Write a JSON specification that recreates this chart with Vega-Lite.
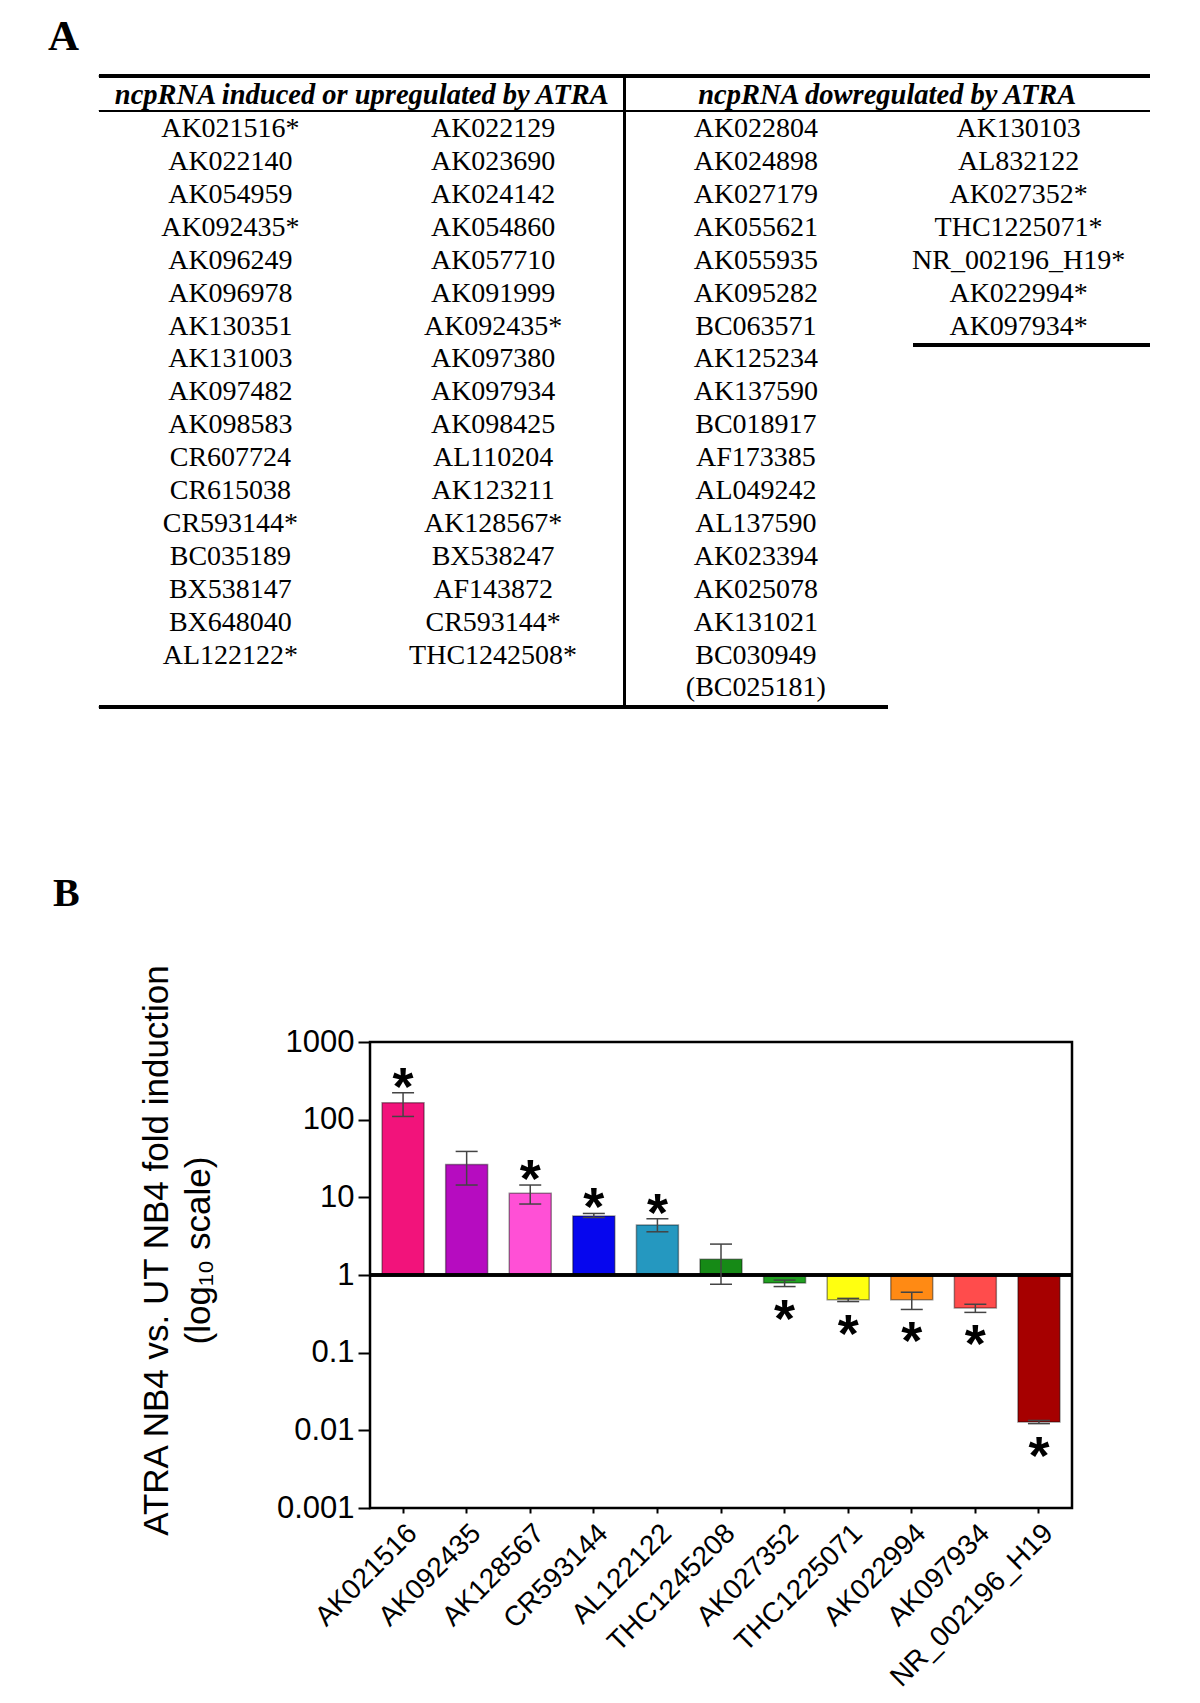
{
  "$schema": "https://vega.github.io/schema/vega-lite/v6.json",
  "background": "white",
  "padding": {"left": 48, "top": 15, "right": 0, "bottom": 0},
  "spacing": 164,
  "config": {"axis": {"grid": false}, "font": "Liberation Sans"},
  "vconcat": [
    {
      "width": 780,
      "height": 631,
      "view": {"stroke": null},
      "title": {"text": "A", "anchor": "start", "frame": "group", "dx": -322, "offset": -18, "baseline": "alphabetic", "font": "Liberation Serif", "fontSize": 43, "fontWeight": "bold", "color": "black"},
      "data": {"values": [
        {"col": 1, "row": 1, "name": "AK021516*"},
        {"col": 1, "row": 2, "name": "AK022140"},
        {"col": 1, "row": 3, "name": "AK054959"},
        {"col": 1, "row": 4, "name": "AK092435*"},
        {"col": 1, "row": 5, "name": "AK096249"},
        {"col": 1, "row": 6, "name": "AK096978"},
        {"col": 1, "row": 7, "name": "AK130351"},
        {"col": 1, "row": 8, "name": "AK131003"},
        {"col": 1, "row": 9, "name": "AK097482"},
        {"col": 1, "row": 10, "name": "AK098583"},
        {"col": 1, "row": 11, "name": "CR607724"},
        {"col": 1, "row": 12, "name": "CR615038"},
        {"col": 1, "row": 13, "name": "CR593144*"},
        {"col": 1, "row": 14, "name": "BC035189"},
        {"col": 1, "row": 15, "name": "BX538147"},
        {"col": 1, "row": 16, "name": "BX648040"},
        {"col": 1, "row": 17, "name": "AL122122*"},
        {"col": 2, "row": 1, "name": "AK022129"},
        {"col": 2, "row": 2, "name": "AK023690"},
        {"col": 2, "row": 3, "name": "AK024142"},
        {"col": 2, "row": 4, "name": "AK054860"},
        {"col": 2, "row": 5, "name": "AK057710"},
        {"col": 2, "row": 6, "name": "AK091999"},
        {"col": 2, "row": 7, "name": "AK092435*"},
        {"col": 2, "row": 8, "name": "AK097380"},
        {"col": 2, "row": 9, "name": "AK097934"},
        {"col": 2, "row": 10, "name": "AK098425"},
        {"col": 2, "row": 11, "name": "AL110204"},
        {"col": 2, "row": 12, "name": "AK123211"},
        {"col": 2, "row": 13, "name": "AK128567*"},
        {"col": 2, "row": 14, "name": "BX538247"},
        {"col": 2, "row": 15, "name": "AF143872"},
        {"col": 2, "row": 16, "name": "CR593144*"},
        {"col": 2, "row": 17, "name": "THC1242508*"},
        {"col": 3, "row": 1, "name": "AK022804"},
        {"col": 3, "row": 2, "name": "AK024898"},
        {"col": 3, "row": 3, "name": "AK027179"},
        {"col": 3, "row": 4, "name": "AK055621"},
        {"col": 3, "row": 5, "name": "AK055935"},
        {"col": 3, "row": 6, "name": "AK095282"},
        {"col": 3, "row": 7, "name": "BC063571"},
        {"col": 3, "row": 8, "name": "AK125234"},
        {"col": 3, "row": 9, "name": "AK137590"},
        {"col": 3, "row": 10, "name": "BC018917"},
        {"col": 3, "row": 11, "name": "AF173385"},
        {"col": 3, "row": 12, "name": "AL049242"},
        {"col": 3, "row": 13, "name": "AL137590"},
        {"col": 3, "row": 14, "name": "AK023394"},
        {"col": 3, "row": 15, "name": "AK025078"},
        {"col": 3, "row": 16, "name": "AK131021"},
        {"col": 3, "row": 17, "name": "BC030949"},
        {"col": 3, "row": 18, "name": "(BC025181)"},
        {"col": 4, "row": 1, "name": "AK130103"},
        {"col": 4, "row": 2, "name": "AL832122"},
        {"col": 4, "row": 3, "name": "AK027352*"},
        {"col": 4, "row": 4, "name": "THC1225071*"},
        {"col": 4, "row": 5, "name": "NR_002196_H19*"},
        {"col": 4, "row": 6, "name": "AK022994*"},
        {"col": 4, "row": 7, "name": "AK097934*"}
      ]},
      "layer": [
        {
          "mark": {"type": "text", "font": "Liberation Serif", "fontSize": 28, "baseline": "middle", "align": "center", "color": "black"},
          "encoding": {
            "x": {"field": "col", "type": "quantitative", "scale": {"domain": [1.5314, 4.5], "nice": false, "zero": false}, "axis": null},
            "y": {"field": "row", "type": "quantitative", "scale": {"domain": [-0.614, 18.565], "nice": false, "zero": false, "reverse": true}, "axis": null},
            "text": {"field": "name"}
          }
        },
        {
          "data": {"values": [
            {"col": 1.5, "head": "ncpRNA induced or upregulated by ATRA"},
            {"col": 3.5, "head": "ncpRNA dowregulated by ATRA"}
          ]},
          "mark": {"type": "text", "font": "Liberation Serif", "fontSize": 28.5, "fontWeight": "bold", "fontStyle": "italic", "baseline": "middle", "align": "center", "color": "black"},
          "encoding": {
            "x": {"field": "col", "type": "quantitative"},
            "y": {"datum": -0.05, "type": "quantitative"},
            "text": {"field": "head"}
          }
        },
        {
          "mark": {"type": "rule", "strokeWidth": 3, "color": "black"},
          "encoding": {"x": {"datum": 0.5, "type": "quantitative"}, "x2": {"datum": 4.5}, "y": {"datum": -0.614, "type": "quantitative"}}
        },
        {
          "mark": {"type": "rule", "strokeWidth": 1.5, "color": "black"},
          "encoding": {"x": {"datum": 0.5, "type": "quantitative"}, "x2": {"datum": 4.5}, "y": {"datum": 0.44, "type": "quantitative"}}
        },
        {
          "mark": {"type": "rule", "strokeWidth": 3, "color": "black"},
          "encoding": {"x": {"datum": 0.5, "type": "quantitative"}, "x2": {"datum": 3.5}, "y": {"datum": 18.565, "type": "quantitative"}}
        },
        {
          "mark": {"type": "rule", "strokeWidth": 3, "color": "black"},
          "encoding": {"x": {"datum": 3.6, "type": "quantitative"}, "x2": {"datum": 4.5}, "y": {"datum": 7.56, "type": "quantitative"}}
        },
        {
          "mark": {"type": "rule", "strokeWidth": 1.5, "color": "black"},
          "encoding": {"x": {"datum": 2.5, "type": "quantitative"}, "y": {"datum": -0.614, "type": "quantitative"}, "y2": {"datum": 18.565}}
        }
      ]
    },
    {
      "width": 702,
      "height": 466,
      "view": {"stroke": "black", "strokeWidth": 2.5},
      "title": {"text": "B", "anchor": "start", "frame": "group", "dx": -317, "offset": 17, "baseline": "alphabetic", "font": "Liberation Serif", "fontSize": 40, "fontWeight": "bold", "color": "black"},
      "data": {"values": [
        {"gene": "AK021516", "value": 165, "lo": 110, "hi": 222, "sig": "*"},
        {"gene": "AK092435", "value": 26.5, "lo": 14.4, "hi": 39, "sig": ""},
        {"gene": "AK128567", "value": 11.3, "lo": 8.2, "hi": 14.4, "sig": "*"},
        {"gene": "CR593144", "value": 5.75, "lo": 5.5, "hi": 6.2, "sig": "*"},
        {"gene": "AL122122", "value": 4.4, "lo": 3.6, "hi": 5.3, "sig": "*"},
        {"gene": "THC1245208", "value": 1.6, "lo": 0.76, "hi": 2.5, "sig": ""},
        {"gene": "AK027352", "value": 0.79, "lo": 0.71, "hi": 0.86, "sig": "*"},
        {"gene": "THC1225071", "value": 0.48, "lo": 0.455, "hi": 0.5, "sig": "*"},
        {"gene": "AK022994", "value": 0.48, "lo": 0.36, "hi": 0.6, "sig": "*"},
        {"gene": "AK097934", "value": 0.375, "lo": 0.33, "hi": 0.42, "sig": "*"},
        {"gene": "NR_002196_H19", "value": 0.0128, "lo": 0.0122, "hi": 0.0134, "sig": "*"}
      ]},
      "encoding": {
        "x": {
          "field": "gene", "type": "nominal", "sort": null,
          "scale": {"paddingInner": 0.34, "paddingOuter": 0.19},
          "axis": {"title": null, "labelAngle": -45, "labelFont": "Liberation Sans", "labelFontSize": 28, "labelColor": "black", "labelLimit": 400, "tickSize": 5, "tickWidth": 2, "tickColor": "black", "domain": false, "labelPadding": 6}
        }
      },
      "layer": [
        {
          "mark": {"type": "bar", "stroke": "black", "strokeOpacity": 0.4, "strokeWidth": 1.5},
          "encoding": {
            "y": {
              "field": "value", "type": "quantitative",
              "scale": {"type": "log", "domain": [0.001, 1000], "nice": false},
              "axis": {
                "values": [0.001, 0.01, 0.1, 1, 10, 100, 1000], "format": "~g",
                "title": ["ATRA NB4 vs. UT NB4 fold induction", "(log₁₀ scale)"],
                "titleFont": "Liberation Sans", "titleFontSize": 35, "titleFontWeight": "normal", "titleColor": "black", "titleLineHeight": 42, "titlePadding": 60, "titleY": 208,
                "labelFont": "Liberation Sans", "labelFontSize": 31, "labelColor": "black", "labelPadding": 4,
                "tickSize": 12, "tickWidth": 2, "tickColor": "black", "domain": false
              }
            },
            "y2": {"datum": 1},
            "color": {
              "field": "gene", "type": "nominal", "legend": null,
              "scale": {
                "domain": ["AK021516", "AK092435", "AK128567", "CR593144", "AL122122", "THC1245208", "AK027352", "THC1225071", "AK022994", "AK097934", "NR_002196_H19"],
                "range": ["#F2137B", "#B60CC0", "#FF50D6", "#0606EE", "#2598C0", "#168A16", "#22A022", "#FFFF10", "#FF8A14", "#FF4C4C", "#A60000"]
              }
            }
          }
        },
        {
          "mark": {"type": "rule", "strokeWidth": 2.5, "color": "black"},
          "encoding": {"y": {"datum": 1, "type": "quantitative"}, "x": null}
        },
        {
          "mark": {"type": "rule", "strokeWidth": 1.5, "color": "#444444"},
          "encoding": {"y": {"field": "lo", "type": "quantitative"}, "y2": {"field": "hi"}}
        },
        {
          "mark": {"type": "tick", "size": 22, "thickness": 1.5, "color": "#444444", "opacity": 1},
          "encoding": {"y": {"field": "lo", "type": "quantitative"}}
        },
        {
          "mark": {"type": "tick", "size": 22, "thickness": 1.5, "color": "#444444", "opacity": 1},
          "encoding": {"y": {"field": "hi", "type": "quantitative"}}
        },
        {
          "transform": [{"filter": "datum.value > 1"}],
          "mark": {"type": "text", "font": "Liberation Sans", "fontWeight": "bold", "fontSize": 54, "baseline": "alphabetic", "align": "center", "dy": 12, "color": "black"},
          "encoding": {"y": {"field": "hi", "type": "quantitative"}, "text": {"field": "sig"}}
        },
        {
          "transform": [{"filter": "datum.value < 1"}],
          "mark": {"type": "text", "font": "Liberation Sans", "fontWeight": "bold", "fontSize": 54, "baseline": "alphabetic", "align": "center", "dy": 50, "color": "black"},
          "encoding": {"y": {"field": "lo", "type": "quantitative"}, "text": {"field": "sig"}}
        }
      ]
    }
  ]
}
